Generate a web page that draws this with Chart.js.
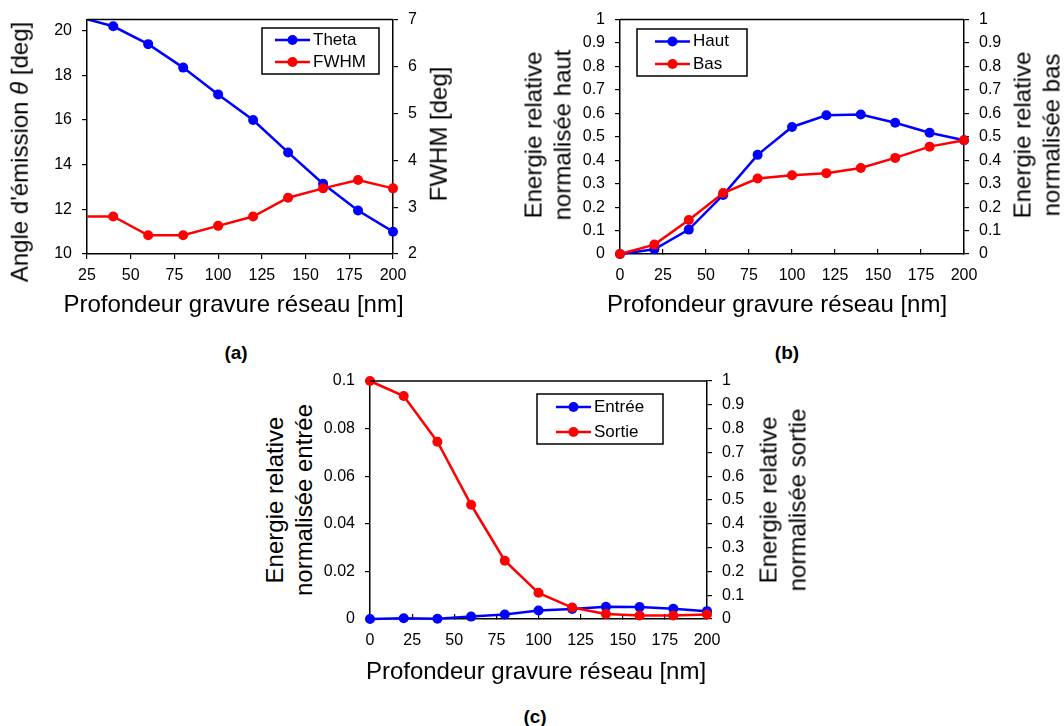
<!DOCTYPE html>
<html>
<head>
<meta charset="utf-8">
<script src="https://cdn.jsdelivr.net/npm/chart.js@4.4.1/dist/chart.umd.min.js"></script>
<style>
    body { margin: 0; background: #fff; }
    #pagina { position: relative; width: 1064px; height: 726px; overflow: hidden; font-family: 'Liberation Sans', Arial, sans-serif; color: #000; }
    canvas { position: absolute; }
    .titulo { position: absolute; font-size: 24px; line-height: 28.5px; white-space: nowrap; text-align: center; transform: translate(-50%, -50%); }
    .vertical { transform: translate(-50%, -50%) rotate(-90deg); }
    .etiqueta { position: absolute; font-weight: bold; font-size: 19px; white-space: nowrap; transform: translate(-50%, -50%); }
</style>
</head>
<body>
<div id="pagina">
    <canvas id="graficoA" width="425" height="300" style="left:0px;top:0px;width:425px;height:300px"></canvas>
    <canvas id="graficoB" width="450" height="300" style="left:560px;top:0px;width:450px;height:300px"></canvas>
    <canvas id="graficoC" width="440" height="300" style="left:320px;top:360px;width:440px;height:300px"></canvas>

    <div class="titulo vertical" style="left:19.5px;top:152px">Angle d'émission <i>θ</i> [deg]</div>
    <div class="titulo vertical" style="left:439px;top:133.5px">FWHM [deg]</div>
    <div class="titulo" style="left:233.5px;top:303.7px">Profondeur gravure réseau [nm]</div>
    <div class="etiqueta" style="left:236px;top:353px">(a)</div>

    <div class="titulo vertical" style="left:548px;top:135px">Energie relative<br>normalisée haut</div>
    <div class="titulo vertical" style="left:1037px;top:135px">Energie relative<br>normalisée bas</div>
    <div class="titulo" style="left:777px;top:303.7px">Profondeur gravure réseau [nm]</div>
    <div class="etiqueta" style="left:787px;top:353px">(b)</div>

    <div class="titulo vertical" style="left:288.5px;top:500px">Energie relative<br>normalisée entrée</div>
    <div class="titulo vertical" style="left:783px;top:500px">Energie relative<br>normalisée sortie</div>
    <div class="titulo" style="left:536px;top:671px">Profondeur gravure réseau [nm]</div>
    <div class="etiqueta" style="left:535px;top:717px">(c)</div>
</div>

<script>
// DATOS
const profondeurA = [20, 40, 60, 80, 100, 120, 140, 160, 180, 200];
const theta = [20.62, 20.2, 19.4, 18.35, 17.15, 16.0, 14.55, 13.15, 11.95, 11.0];
const fwhm = [2.8, 2.8, 2.4, 2.4, 2.6, 2.8, 3.2, 3.4, 3.58, 3.4];

const profondeur = [0, 20, 40, 60, 80, 100, 120, 140, 160, 180, 200];
const haut = [0, 0.02, 0.104, 0.252, 0.423, 0.542, 0.592, 0.595, 0.56, 0.517, 0.485];
const bas = [0, 0.04, 0.145, 0.26, 0.322, 0.336, 0.345, 0.367, 0.41, 0.458, 0.485];
const entree = [0, 0.0003, 0.0001, 0.001, 0.0019, 0.0036, 0.0042, 0.0051, 0.005, 0.0043, 0.0033];
const sortie = [1.0, 0.937, 0.745, 0.48, 0.245, 0.11, 0.048, 0.021, 0.015, 0.015, 0.019];

const ticksXA = [25, 50, 75, 100, 125, 150, 175, 200];
const ticksX = [0, 25, 50, 75, 100, 125, 150, 175, 200];
const ticksTheta = [10, 12, 14, 16, 18, 20];
const ticksFwhm = [2, 3, 4, 5, 6, 7];
const ticksEnergie = [0, 0.1, 0.2, 0.3, 0.4, 0.5, 0.6, 0.7, 0.8, 0.9, 1];
const ticksEntree = [0, 0.02, 0.04, 0.06, 0.08, 0.1];

const AZUL = '#0000ff';
const ROJO = '#ff0000';

Chart.defaults.font.family = "'Liberation Sans', Arial, sans-serif";
Chart.defaults.color = '#000';

// LEYENDA CON MARCO DENTRO DEL AREA Y MARCO DEL AREA
const leyendaCaja = {
    id: 'leyendaCaja',
    afterDraw(chart, args, opts) {
        const ctx = chart.ctx;
        const a = chart.chartArea;
        ctx.save();
        ctx.strokeStyle = '#000';
        ctx.lineWidth = 1.5;
        ctx.beginPath();
        ctx.moveTo(a.left, a.top);
        ctx.lineTo(a.right, a.top);
        ctx.stroke();

        ctx.fillStyle = '#fff';
        ctx.fillRect(opts.x, opts.y, opts.w, opts.h);
        ctx.strokeRect(opts.x, opts.y, opts.w, opts.h);
        chart.data.datasets.forEach((ds, i) => {
            const y = opts.filas[i];
            ctx.strokeStyle = ds.borderColor;
            ctx.lineWidth = 2.5;
            ctx.beginPath();
            ctx.moveTo(opts.x1, y);
            ctx.lineTo(opts.x2, y);
            ctx.stroke();
            ctx.fillStyle = ds.borderColor;
            ctx.beginPath();
            ctx.arc((opts.x1 + opts.x2) / 2, y, 5, 0, 2 * Math.PI);
            ctx.fill();
            ctx.fillStyle = '#000';
            ctx.font = "17px 'Liberation Sans', Arial, sans-serif";
            ctx.textBaseline = 'middle';
            ctx.textAlign = 'left';
            ctx.fillText(ds.label, opts.xt, y);
        });
        ctx.restore();
    }
};

function puntos(xs, ys) {
    return xs.map((x, i) => ({ x: x, y: ys[i] }));
}

function serie(label, xs, ys, color, eje, orden, clip) {
    return {
        label: label,
        data: puntos(xs, ys),
        yAxisID: eje,
        borderColor: color,
        backgroundColor: color,
        borderWidth: 2.5,
        pointRadius: 5,
        pointBackgroundColor: color,
        pointBorderColor: color,
        pointBorderWidth: 0,
        tension: 0,
        order: orden,
        clip: clip
    };
}

function ejeX(min, max, valores, alto, largoTick, pad) {
    return {
        type: 'linear',
        position: 'bottom',
        min: min,
        max: max,
        afterBuildTicks: s => { s.ticks = valores.map(v => ({ value: v })); },
        afterFit: s => { s.height = alto; },
        grid: { drawOnChartArea: false, drawTicks: true, tickLength: largoTick, color: '#000', lineWidth: 1.2 },
        border: { display: true, color: '#000', width: 1.5 },
        ticks: { padding: pad, maxRotation: 0, autoSkip: false, font: { size: 16 }, callback: v => String(v) }
    };
}

function ejeY(pos, min, max, valores, ancho) {
    return {
        type: 'linear',
        position: pos,
        min: min,
        max: max,
        afterBuildTicks: s => { s.ticks = valores.map(v => ({ value: v })); },
        afterFit: s => { s.width = ancho; },
        grid: { drawOnChartArea: false, drawTicks: true, tickLength: 5, color: '#000', lineWidth: 1.2 },
        border: { display: true, color: '#000', width: 1.5 },
        ticks: { padding: 10, autoSkip: false, font: { size: 16 }, callback: v => String(v) }
    };
}

function crearGrafico(id, datasets, escalas, arriba, leyenda) {
    const ctx = document.getElementById(id).getContext('2d');
    return new Chart(ctx, {
        type: 'line',
        data: { datasets: datasets },
        options: {
            responsive: false,
            animation: false,
            devicePixelRatio: 1,
            events: [],
            layout: { padding: { top: arriba, left: 0, right: 0, bottom: 0 } },
            scales: escalas,
            plugins: {
                legend: { display: false },
                tooltip: { enabled: false },
                leyendaCaja: leyenda
            }
        },
        plugins: [leyendaCaja]
    });
}

document.addEventListener("DOMContentLoaded", function () {
    // (a) Theta y FWHM
    const clipA = { left: 0, top: 0, right: 10, bottom: 10 };
    crearGrafico('graficoA', [
        serie('Theta', profondeurA, theta, AZUL, 'y', 2, clipA),
        serie('FWHM', profondeurA, fwhm, ROJO, 'y2', 1, clipA)
    ], {
        x: ejeX(25, 200, ticksXA, 46, 5, 7),
        y: ejeY('left', 10, 20.5, ticksTheta, 87),
        y2: ejeY('right', 2, 7, ticksFwhm, 32)
    }, 15, { x: 262, y: 28, w: 117, h: 46, filas: [40, 62], x1: 275, x2: 310, xt: 313 });

    // (b) Haut y Bas
    crearGrafico('graficoB', [
        serie('Haut', profondeur, haut, AZUL, 'y', 2, false),
        serie('Bas', profondeur, bas, ROJO, 'y2', 1, false)
    ], {
        x: ejeX(0, 200, ticksX, 46, -5, 17),
        y: ejeY('left', 0, 1, ticksEnergie, 60),
        y2: ejeY('right', 0, 1, ticksEnergie, 46)
    }, 16, { x: 77, y: 29, w: 110, h: 47, filas: [41.5, 64], x1: 95, x2: 130, xt: 133 });

    // (c) Entrée y Sortie
    crearGrafico('graficoC', [
        serie('Entrée', profondeur, entree, AZUL, 'y', 2, false),
        serie('Sortie', profondeur, sortie, ROJO, 'y2', 1, false)
    ], {
        x: ejeX(0, 200, ticksX, 41, -5, 17),
        y: ejeY('left', 0, 0.1, ticksEntree, 50),
        y2: ejeY('right', 0, 1, ticksEnergie, 53)
    }, 21, { x: 217, y: 34, w: 126, h: 50, filas: [47, 72], x1: 236, x2: 271, xt: 274 });
});
</script>
</body>
</html>
